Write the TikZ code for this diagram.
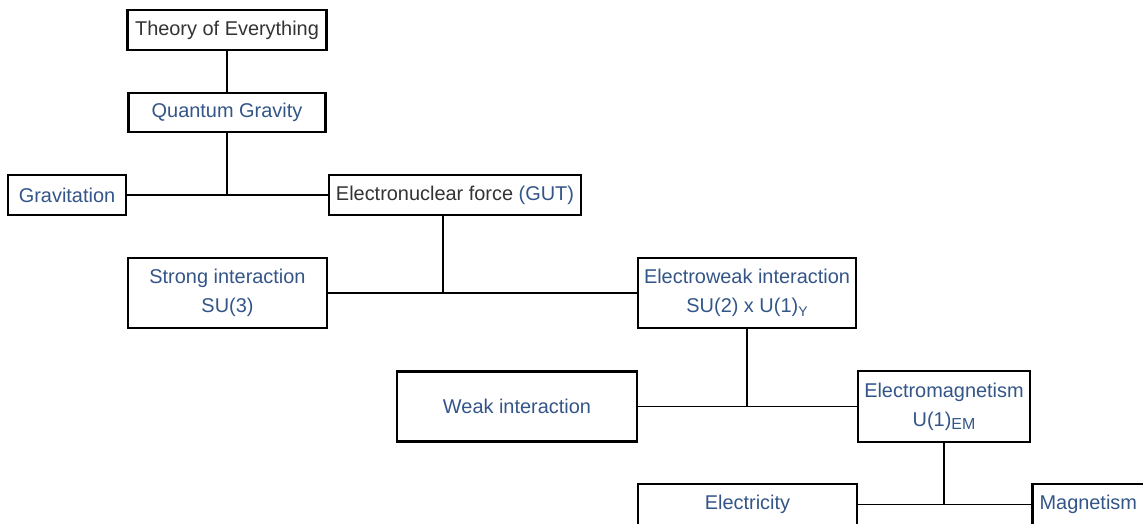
\documentclass[tikz,border=0pt]{standalone}
\usepackage{fontspec}
\setmainfont{Liberation Sans}
\definecolor{linkblue}{HTML}{335588}
\definecolor{darktext}{HTML}{333333}
\begin{document}
\begin{tikzpicture}[x=1bp,y=-1bp,
  box/.style={draw=black, line width=2.6bp, inner sep=0pt, align=center,
    font=\fontsize{20}{29}\selectfont, text=linkblue, fill=white},
  link/.style={draw=black, line width=1.4bp}]
\useasboundingbox (0,0) rectangle (1143,524);
\clip (0,0) rectangle (1143,524);
\fill[white] (0,0) rectangle (1143,524);
\node[box, text=darktext, minimum width=199bp, minimum height=40bp] (toe) at (227,30) {Theory of Everything};
\node[box, minimum width=197bp, minimum height=39bp] (qg) at (227,112.5) {Quantum Gravity};
\node[box, minimum width=118bp, minimum height=40bp] (grav) at (67,195) {Gravitation};
\node[box, text=darktext, minimum width=252bp, minimum height=40bp] (enf) at (455,195) {Electronuclear force \textcolor{linkblue}{(GUT)}};
\node[box, minimum width=199bp, minimum height=70bp] (strong) at (227.5,293) {Strong interaction\\SU(3)};
\node[box, minimum width=218bp, minimum height=70bp] (ew) at (747,293) {Electroweak interaction\\SU(2) x U(1)\raisebox{-0.35ex}{\fontsize{14}{14}\selectfont Y}};
\node[box, minimum width=240bp, minimum height=70bp] (weak) at (517,406.5) {Weak interaction};
\node[box, minimum width=172bp, minimum height=71bp] (em) at (944,406.5) {Electromagnetism\\U(1)\raisebox{-0.35ex}{\fontsize{16}{16}\selectfont EM}};
\node[box, minimum width=219bp, minimum height=41bp] (elec) at (747.5,504.5) {Electricity};
\node[box, minimum width=124bp, minimum height=41bp, anchor=west] (mag) at (1031,504.5) {\hspace*{-12bp}Magnetism};
% connectors
\draw[link] (toe.south) -- (qg.north);
\draw[link] (grav.east) -- (enf.west);
\draw[link] (qg.south) -- (qg.south |- grav.east);
\draw[link] (strong.east) -- (ew.west);
\draw[link] ([xshift=-12bp]enf.south) -- ([xshift=-12bp]enf.south |- strong.east);
\draw[link] (weak.east) -- (em.west);
\draw[link] (ew.south) -- (ew.south |- weak.east);
\draw[link] (elec.east) -- (mag.west);
\draw[link] (em.south) -- (em.south |- elec.east);
\end{tikzpicture}
\end{document}
